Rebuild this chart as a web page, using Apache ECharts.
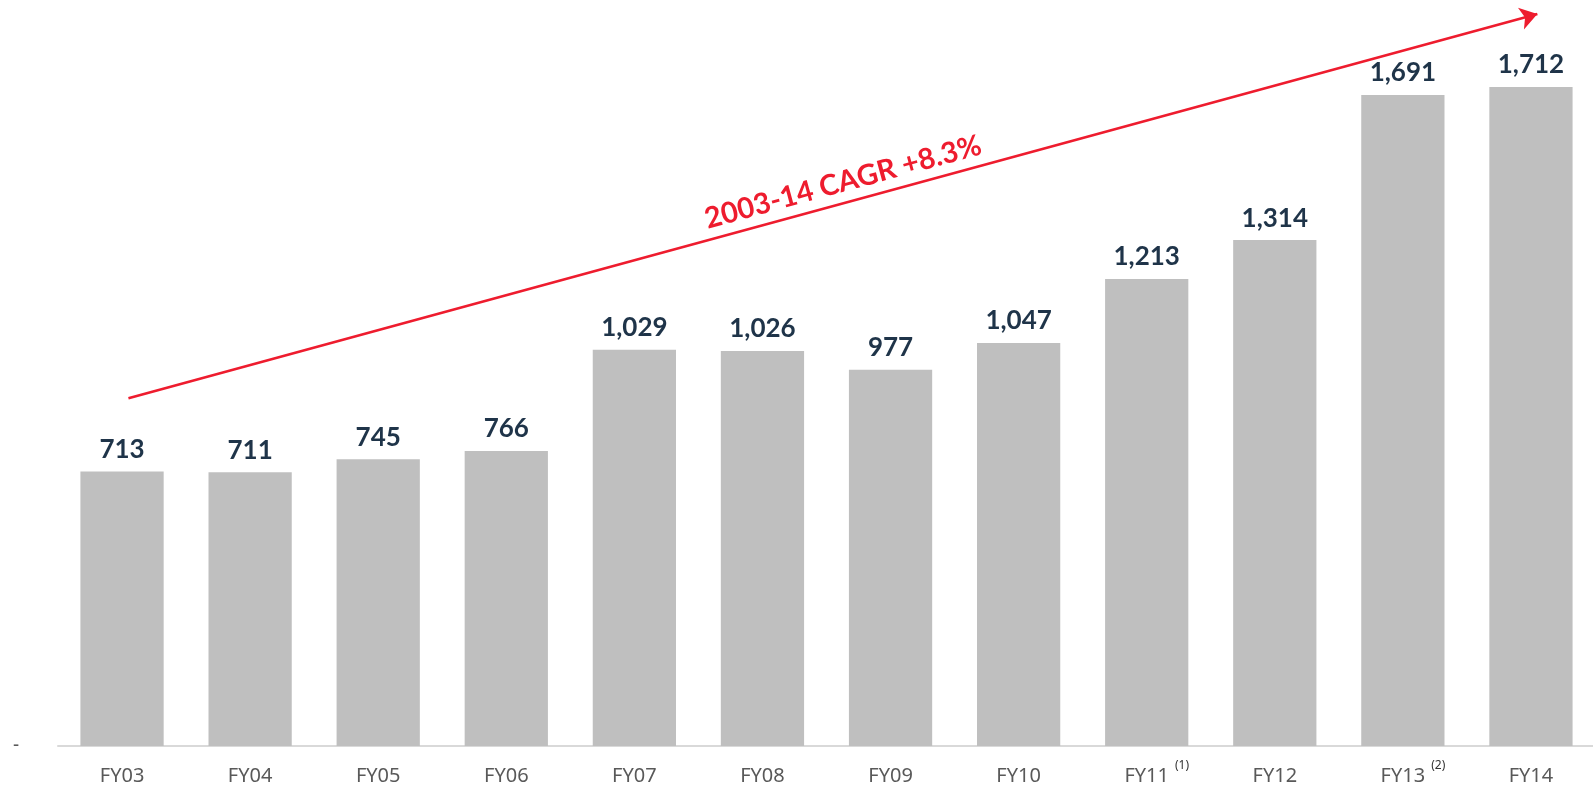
<!DOCTYPE html>
<html lang="en">
<head>
    <meta charset="UTF-8">
    <title>FY03-FY14</title>
    <script src="https://cdn.jsdelivr.net/npm/echarts@6/dist/echarts.min.js"></script>
    <style>
        html, body { margin: 0; padding: 0; background: #fff; }
        #chart { width: 1593px; height: 790px; }
    </style>
</head>
<body>
<div id="chart"></div>
<script type="application/javascript">
    // data
    var years = ['FY03', 'FY04', 'FY05', 'FY06', 'FY07', 'FY08', 'FY09', 'FY10', 'FY11', 'FY12', 'FY13', 'FY14'];
    var values = [713, 711, 745, 766, 1029, 1026, 977, 1047, 1213, 1314, 1691, 1712];
    var footnotes = { FY11: '(1)', FY13: '(2)' };
    var cagrText = '2003-14 CAGR +8.3%';
    // arrow ends, as [category position, value]
    var arrowFrom = [0.05, 903];
    var arrowTo = [11.05, 1901];

    var red = '#ee1c2e';
    var chart = echarts.init(document.getElementById('chart'));

    var option = {
        animation: false,
        grid: { left: 58, right: -2, top: -24, bottom: 44, outerBoundsMode: 'none', containLabel: false },
        xAxis: [{
            type: 'category',
            data: years,
            axisLine: { lineStyle: { color: '#d9d9d9', width: 2 } },
            axisTick: { show: false },
            axisLabel: {
                interval: 0,
                margin: 14,
                formatter: function (v) {
                    var n = footnotes[v];
                    if (n) return '{p|' + n + '}{m|' + v + '}{s|' + n + '}';
                    return '{m|' + v + '}';
                },
                rich: {
                    m: { fontFamily: 'Noto Sans', fontSize: 20, color: '#595959', lineHeight: 33 },
                    s: { fontFamily: 'Noto Sans', fontSize: 12, color: '#333333', lineHeight: 14,
                         verticalAlign: 'top', padding: [0, 0, 0, 6] },
                    p: { fontFamily: 'Noto Sans', fontSize: 12, color: 'transparent', lineHeight: 14,
                         verticalAlign: 'top', padding: [0, 6, 0, 0] }
                }
            }
        }, {
            // hidden helper axis so the arrow can sit between category centres
            type: 'value',
            min: -0.5,
            max: years.length - 0.5,
            show: false
        }],
        yAxis: {
            type: 'value',
            min: 0,
            max: 2000,
            interval: 2000,
            axisLine: { show: false },
            axisTick: { show: false },
            splitLine: { show: false },
            axisLabel: {
                margin: 39,
                fontFamily: 'Noto Sans',
                fontSize: 19,
                color: '#595959',
                formatter: function (v) { return v === 0 ? '-' : ''; }
            }
        },
        series: [{
            type: 'bar',
            data: values,
            barWidth: '65%',
            itemStyle: { color: '#bfbfbf' },
            label: {
                show: true,
                position: 'top',
                distance: 9,
                fontFamily: 'Lato',
                fontWeight: 'bold',
                fontSize: 26,
                color: '#1f3449',
                formatter: function (p) { return p.value.toLocaleString('en-US'); }
            }
        }, {
            type: 'line',
            xAxisIndex: 1,
            data: [],
            silent: true,
            markLine: {
                silent: true,
                symbol: ['none', 'arrow'],
                symbolSize: 17,
                lineStyle: { color: red, width: 2.6, type: 'solid' },
                label: {
                    show: true,
                    position: 'middle',
                    distance: 6,
                    padding: [0, 0, 0, 32],
                    formatter: cagrText,
                    fontFamily: 'Lato',
                    fontWeight: 'bold',
                    fontSize: 29,
                    color: red
                },
                data: [[{ coord: arrowFrom }, { coord: arrowTo }]]
            }
        }]
    };
    chart.setOption(option);
</script>
</body>
</html>
